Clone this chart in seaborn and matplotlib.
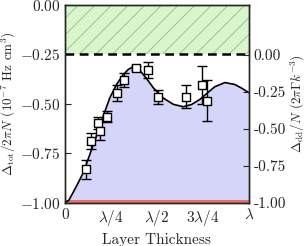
import matplotlib
matplotlib.use("Agg")
import matplotlib.pyplot as plt
import numpy as np
import pandas as pd
import seaborn as sns

# theory curve (x in units of lambda)
curve_x = [0.0, 0.022, 0.061, 0.098, 0.134, 0.170, 0.207, 0.243, 0.279, 0.315,
           0.345, 0.370, 0.395, 0.420, 0.444, 0.480, 0.534, 0.589, 0.643, 0.688,
           0.734, 0.770, 0.815, 0.870, 0.924, 0.960, 1.0]
curve_y = [-1.0, -0.985, -0.918, -0.850, -0.758, -0.665, -0.564, -0.471, -0.404, -0.354,
           -0.325, -0.314, -0.322, -0.345, -0.372, -0.418, -0.470, -0.502, -0.514, -0.503,
           -0.477, -0.448, -0.413, -0.392, -0.402, -0.420, -0.443]

# measured points
meas_x = [0.114, 0.141, 0.178, 0.190, 0.230, 0.281, 0.322, 0.386, 0.449, 0.504, 0.658, 0.746, 0.770]
meas_y = [-0.830, -0.687, -0.598, -0.636, -0.564, -0.443, -0.379, -0.320, -0.328, -0.466, -0.463, -0.404, -0.483]
meas_err = [0.048, 0.040, 0.030, 0.045, 0.028, 0.040, 0.033, 0.010, 0.040, 0.035, 0.058, 0.096, 0.104]

xtick_vals = [0, 0.25, 0.5, 0.75, 1.0]
xtick_labels = ["0", r"$\lambda/4$", r"$\lambda/2$", r"$3\lambda/4$", r"$\lambda$"]
left_ticks = [0.0, -0.25, -0.5, -0.75, -1.0]
left_labels = [r"$0.00$", r"$-0.25$", r"$-0.50$", r"$-0.75$", r"$-1.00$"]
right_ticks = [0.0, -0.25, -0.5, -0.75, -1.0]
right_labels = ["0.00", "-0.25", "-0.50", "-0.75", "-1.00"]

sns.set_style("ticks")
plt.rcParams["font.family"] = ["cmr10", "DejaVu Serif"]
plt.rcParams["mathtext.fontset"] = "cm"
plt.rcParams["axes.formatter.use_mathtext"] = True
plt.rcParams["font.size"] = 11
plt.rcParams["hatch.linewidth"] = 0.6
plt.rcParams["hatch.color"] = "#8fbf80"

curve = pd.DataFrame({"x": curve_x, "y": curve_y})
meas = pd.DataFrame({"x": meas_x, "y": meas_y, "err": meas_err})

fig = plt.figure(figsize=(3.08, 2.46), dpi=100)
ax = fig.add_axes([0.211, 0.175, 0.597, 0.805])

# allowed region (blue) under the curve, forbidden region (green hatched) on top
ax.fill_between(curve["x"], curve["y"], -1.0, color="#d5d5fa", linewidth=0, zorder=1)
ax.fill_between([0, 1], [-0.25, -0.25], [0, 0], facecolor="#d9f5cc",
                edgecolor="#8fbf80", hatch="//", linewidth=0, zorder=1)
ax.axhline(-0.25, color="black", lw=1.8, ls=(0, (3.5, 2.2)), zorder=3)
ax.axhline(-1.0, color="#f06a6a", lw=5, zorder=3)

sns.lineplot(data=curve, x="x", y="y", sort=False, estimator=None,
             color="black", lw=1.2, ax=ax, zorder=4)
ax.errorbar(meas["x"], meas["y"], yerr=meas["err"], fmt="none",
            ecolor="black", elinewidth=1.0, capsize=3.5, capthick=1.0, zorder=5)
sns.scatterplot(data=meas, x="x", y="y", marker="s", s=28, facecolor="white",
                edgecolor="black", linewidth=1.0, ax=ax, zorder=6)

ax.set_xlim(0, 1)
ax.set_ylim(-1.0, 0.0)
ax.set_xticks(xtick_vals)
ax.set_xticklabels(xtick_labels)
ax.set_yticks(left_ticks)
ax.set_yticklabels(left_labels)
ax.tick_params(direction="in", top=True, right=False, length=4, width=0.8, labelsize=11)
ax.set_xlabel("Layer Thickness", labelpad=4)
ax.set_ylabel(r"$\Delta_{\rm tot}/2\pi N$ $(10^{-7}$ Hz cm$^3)$", labelpad=1, fontsize=9.5)

ax2 = ax.twinx()
ax2.set_ylim(-1.0, 0.338)
ax2.set_yticks(right_ticks)
ax2.set_yticklabels(right_labels)
ax2.tick_params(direction="in", length=4, width=0.8, labelsize=11)
ax2.set_ylabel(r"$\Delta_{\rm dd}/N$ $(2\pi\Gamma k^{-3})$", labelpad=2, fontsize=9.5)

for a in (ax, ax2):
    for sp in a.spines.values():
        sp.set_linewidth(1.0)
        sp.set_visible(True)
        sp.set_zorder(10)

fig.savefig("out.png", dpi=100)
plt.close(fig)
